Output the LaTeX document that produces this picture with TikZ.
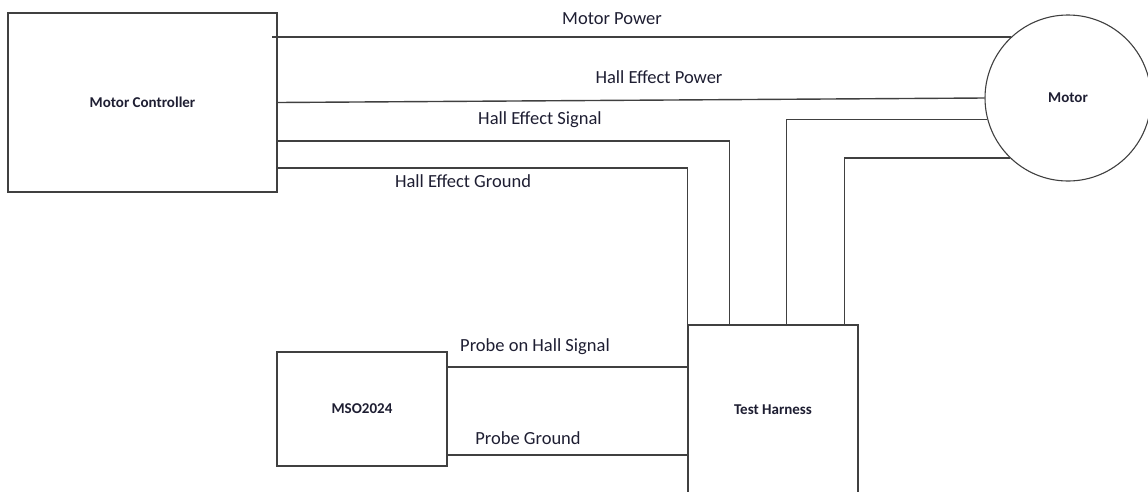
\documentclass[tikz,border=0pt]{standalone}
\usepackage{fontspec}
\setmainfont{Carlito}
\usetikzlibrary{positioning, calc}
\definecolor{ln}{HTML}{404040}
\definecolor{txt}{HTML}{1E1E32}
\tikzset{
  blk/.style  = {rectangle, draw=ln, line width=1.3pt, fill=white,
                 inner sep=0pt, font=\fontsize{15}{17}\selectfont\bfseries,
                 text=txt, align=center},
  rnd/.style  = {circle, draw=ln, line width=1.1pt, fill=white,
                 inner sep=0pt, minimum size=166pt,
                 font=\fontsize{15}{17}\selectfont\bfseries, text=txt},
  lbl/.style  = {inner sep=0pt, font=\fontsize{18.5}{21}\selectfont, text=txt},
  wire/.style = {line width=1.4pt, color=ln},
}
\begin{document}
\begin{tikzpicture}[x=1pt, y=-1pt]
  \useasboundingbox (0,0) rectangle (1148,491);

  % blocks
  \node[blk, minimum width=269pt, minimum height=179pt] (ctrl) at (142.5,102.5) {Motor Controller};
  \node[rnd] (motor) at (1068,98) {Motor};
  \node[blk, minimum width=170pt, minimum height=114pt] (mso) at (362,409) {MSO2024};
  \node[blk, minimum width=170pt, minimum height=170pt] (harness) at (773,410) {Test Harness};

  % controller to motor
  \coordinate (mpin) at (272,37);
  \draw[wire] (mpin) -- (motor.133 |- mpin);
  \draw[wire] (ctrl.east) -- (motor.west);

  % controller to harness
  \draw[wire] (ctrl.east |- 0,141) -| ([xshift=42pt]harness.north west);
  \draw[wire] (ctrl.east |- 0,168) -| (harness.north west);

  % motor to harness
  \draw[wire] (motor.195) -| ([xshift=99pt]harness.north west);
  \draw[wire] (motor.226) -| ([xshift=-14pt]harness.north east);

  % probes
  \draw[wire] (mso.east |- 0,367) -- (harness.west |- 0,367);
  \draw[wire] (mso.east |- 0,455) -- (harness.west |- 0,455);

  % wire labels
  \node[lbl] (lmp)  at (612,19)  {Motor Power};
  \node[lbl] (lhp)  at (659,77)  {Hall Effect Power};
  \node[lbl] (lhs)  at (540,120) {Hall Effect Signal};
  \node[lbl] (lhg)  at (463,181) {Hall Effect Ground};
  \node[lbl] (lps)  at (535,347) {Probe on Hall Signal};
  \node[lbl] (lpg)  at (528,438) {Probe Ground};

\end{tikzpicture}
\end{document}
